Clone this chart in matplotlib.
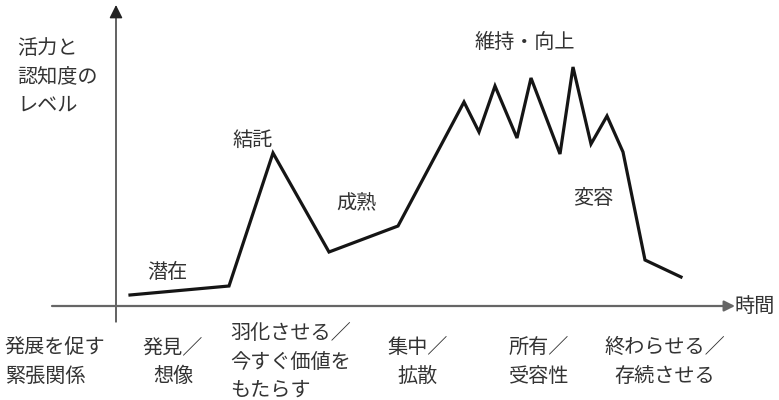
import matplotlib
matplotlib.use("Agg")
import matplotlib.pyplot as plt

plt.rcParams['font.family'] = ['Noto Sans CJK JP', 'DejaVu Sans']

# time (arbitrary units) vs level of vitality / recognition
times = [1.4, 11.3, 15.7, 21.3, 28.2, 34.8, 36.3, 37.9, 40.1, 41.5,
         44.4, 45.7, 47.5, 49.1, 50.7, 52.9, 56.5]
levels = [1.1, 2.0, 15.3, 5.4, 8.0, 20.4, 17.4, 22.0, 16.8, 22.8,
          15.2, 23.9, 16.2, 19.0, 15.4, 4.6, 2.9]

# phase names over the curve
phase_names = ['潜在', '結託', '成熟', '維持・向上', '変容']
phase_t = [5.1, 13.7, 24.0, 40.9, 47.7]
phase_lv = [3.4, 16.6, 10.2, 26.4, 10.7]

# roles below the time axis
role_names = ['発展を促す\n緊張関係', '発見／\n想像', '羽化させる／\n今すぐ価値を\nもたらす',
              '集中／\n拡散', '所有／\n受容性', '終わらせる／\n存続させる']
role_t = [-6.1, 5.7, 17.5, 30.2, 42.3, 54.9]
role_align = ['left', 'center', 'left', 'center', 'center', 'center']

y_title = '活力と\n認知度の\nレベル'
x_title = '時間'

txt = '#333333'
fs = 14.5

fig = plt.figure(figsize=(7.79, 4.0), dpi=100)
ax = fig.add_axes([0, 0, 1, 1])
ax.set_xlim(-11.6, 66.3)
ax.set_ylim(-9.4, 30.6)
ax.axis('off')

# axes with arrows
ax.annotate('', xy=(0, 30.1), xytext=(0, -1.6),
            arrowprops=dict(arrowstyle='-|>', color='#222222', lw=1.0,
                            mutation_scale=20, shrinkA=0, shrinkB=0))
ax.annotate('', xy=(61.9, 0), xytext=(-6.4, 0),
            arrowprops=dict(arrowstyle='-|>', color='#666666', lw=1.6,
                            mutation_scale=16, shrinkA=0, shrinkB=0))

ax.plot(times, levels, color='#151515', lw=2.3, solid_joinstyle='miter')

for name, t, lv in zip(phase_names, phase_t, phase_lv):
    ax.text(t, lv, name, ha='center', va='center', fontsize=fs, color=txt)

ax.text(-9.9, 22.9, y_title, ha='left', va='center', fontsize=fs,
        color=txt, linespacing=1.45)
ax.text(61.9, 0, x_title, ha='left', va='center', fontsize=fs, color=txt)

for name, t, al in zip(role_names, role_t, role_align):
    ax.text(t, -5.6, name, ha='center', va='center', multialignment=al,
            fontsize=fs, color=txt, linespacing=1.45)

fig.savefig('out.png', dpi=100)
